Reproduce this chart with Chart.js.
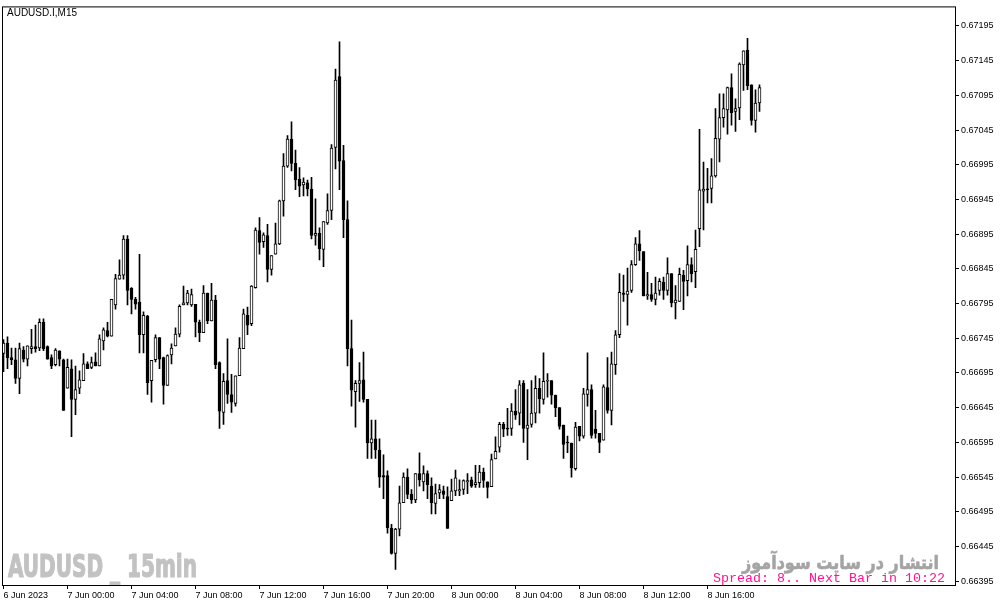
<!DOCTYPE html>
<html>
<head>
<meta charset="utf-8">
<script src="https://cdn.jsdelivr.net/npm/chart.js@4.4.0/dist/chart.umd.min.js"></script>
<style>
  html, body { margin: 0; padding: 0; background: #fff; }
</style>
</head>
<body>
<canvas id="chart" width="1001" height="607"></canvas>
<script>
// AUDUSD.I M15 candles
const symbolTitle = 'AUDUSD.I,M15';
const watermark = 'AUDUSD _ 15min';
const promoText = 'انتشار در سایت سودآموز';
const spreadText = 'Spread: 8.. Next Bar in 10:22';

const open = [
  0.66723,0.66738,0.66717,0.66714,0.66687,0.66728,0.66715,0.66730,0.66733,0.66731,
  0.66768,0.66733,0.66717,0.66707,0.66727,0.66714,0.66673,0.66701,0.66657,0.66673,
  0.66684,0.66708,0.66703,0.66711,0.66705,0.66741,0.66756,0.66748,0.66793,0.66830,
  0.66836,0.66888,0.66817,0.66801,0.66797,0.66750,0.66777,0.66684,0.66714,0.66746,
  0.66717,0.66677,0.66721,0.66734,0.66751,0.66793,0.66796,0.66793,0.66794,0.66768,
  0.66753,0.66810,0.66770,0.66800,0.66710,0.66638,0.66684,0.66664,0.66651,0.66691,
  0.66730,0.66778,0.66766,0.66818,0.66900,0.66884,0.66893,0.66844,0.66866,0.66881,
  0.66943,0.66993,0.67032,0.66997,0.66974,0.66966,0.66969,0.66960,0.66893,0.66896,
  0.66873,0.66911,0.66929,0.67020,0.67122,0.67001,0.66916,0.66730,0.66668,0.66680,
  0.66685,0.66657,0.66594,0.66600,0.66584,0.66547,0.66547,0.66471,0.66435,0.66470,
  0.66508,0.66545,0.66520,0.66512,0.66550,0.66538,0.66550,0.66532,0.66507,0.66522,
  0.66525,0.66517,0.66511,0.66525,0.66525,0.66527,0.66538,0.66541,0.66534,0.66537,
  0.66552,0.66538,0.66531,0.66571,0.66588,0.66621,0.66615,0.66615,0.66640,0.66637,
  0.66680,0.66615,0.66621,0.66637,0.66673,0.66657,0.66683,0.66684,0.66663,0.66645,
  0.66620,0.66595,0.66594,0.66557,0.66618,0.66604,0.66664,0.66671,0.66614,0.66608,
  0.66598,0.66674,0.66641,0.66707,0.66750,0.66810,0.66808,0.66814,0.66851,0.66881,
  0.66870,0.66806,0.66808,0.66801,0.66814,0.66826,0.66814,0.66838,0.66796,0.66798,
  0.66836,0.66828,0.66851,0.66841,0.66903,0.66957,0.66960,0.66961,0.66979,0.67032,
  0.67063,0.67074,0.67106,0.67072,0.67077,0.67139,0.67160,0.67110,0.67059,0.67084
];
const high = [
  0.66743,0.66747,0.66731,0.66731,0.66738,0.66733,0.66734,0.66758,0.66764,0.66773,
  0.66773,0.66734,0.66721,0.66730,0.66727,0.66715,0.66715,0.66714,0.66705,0.66698,
  0.66723,0.66711,0.66718,0.66724,0.66750,0.66760,0.66768,0.66801,0.66837,0.66858,
  0.66893,0.66893,0.66818,0.66804,0.66866,0.66783,0.66778,0.66713,0.66750,0.66746,
  0.66718,0.66721,0.66737,0.66760,0.66793,0.66820,0.66814,0.66816,0.66794,0.66771,
  0.66821,0.66810,0.66824,0.66807,0.66711,0.66694,0.66744,0.66693,0.66691,0.66746,
  0.66787,0.66790,0.66821,0.66904,0.66919,0.66897,0.66909,0.66864,0.66911,0.66944,
  0.67011,0.67037,0.67057,0.67016,0.66991,0.66976,0.66973,0.66977,0.66946,0.66904,
  0.66913,0.66953,0.67024,0.67133,0.67172,0.67023,0.66943,0.66771,0.66684,0.66710,
  0.66725,0.66657,0.66627,0.66627,0.66600,0.66577,0.66554,0.66477,0.66471,0.66532,
  0.66551,0.66557,0.66527,0.66550,0.66580,0.66561,0.66554,0.66544,0.66535,0.66534,
  0.66532,0.66531,0.66542,0.66555,0.66541,0.66541,0.66550,0.66545,0.66562,0.66562,
  0.66558,0.66538,0.66578,0.66603,0.66624,0.66624,0.66644,0.66651,0.66671,0.66684,
  0.66684,0.66671,0.66684,0.66691,0.66687,0.66724,0.66694,0.66684,0.66663,0.66645,
  0.66620,0.66604,0.66594,0.66624,0.66618,0.66673,0.66724,0.66678,0.66641,0.66608,
  0.66678,0.66717,0.66725,0.66756,0.66838,0.66836,0.66846,0.66857,0.66890,0.66900,
  0.66870,0.66840,0.66824,0.66833,0.66831,0.66833,0.66861,0.66838,0.66821,0.66846,
  0.66843,0.66878,0.66861,0.66901,0.67046,0.66999,0.66990,0.67004,0.67076,0.67097,
  0.67097,0.67107,0.67126,0.67090,0.67142,0.67159,0.67177,0.67110,0.67103,0.67110
];
const low = [
  0.66697,0.66701,0.66707,0.66680,0.66665,0.66711,0.66705,0.66723,0.66725,0.66727,
  0.66727,0.66715,0.66701,0.66705,0.66705,0.66641,0.66673,0.66603,0.66635,0.66665,
  0.66684,0.66701,0.66701,0.66705,0.66705,0.66728,0.66747,0.66748,0.66787,0.66830,
  0.66830,0.66793,0.66780,0.66787,0.66724,0.66724,0.66664,0.66653,0.66711,0.66701,
  0.66650,0.66677,0.66708,0.66734,0.66747,0.66793,0.66793,0.66791,0.66747,0.66740,
  0.66753,0.66766,0.66770,0.66701,0.66615,0.66621,0.66651,0.66638,0.66647,0.66691,
  0.66730,0.66750,0.66763,0.66817,0.66866,0.66876,0.66826,0.66836,0.66866,0.66880,
  0.66921,0.66991,0.66986,0.66959,0.66949,0.66950,0.66950,0.66888,0.66879,0.66858,
  0.66848,0.66909,0.66916,0.66989,0.66959,0.66890,0.66705,0.66647,0.66617,0.66654,
  0.66653,0.66572,0.66572,0.66572,0.66530,0.66514,0.66464,0.66434,0.66412,0.66460,
  0.66508,0.66514,0.66507,0.66508,0.66532,0.66525,0.66514,0.66492,0.66492,0.66514,
  0.66514,0.66471,0.66511,0.66518,0.66518,0.66520,0.66521,0.66530,0.66530,0.66530,
  0.66530,0.66515,0.66531,0.66571,0.66581,0.66603,0.66605,0.66605,0.66628,0.66620,
  0.66595,0.66570,0.66617,0.66623,0.66637,0.66650,0.66660,0.66650,0.66632,0.66614,
  0.66572,0.66580,0.66545,0.66555,0.66597,0.66601,0.66647,0.66601,0.66601,0.66580,
  0.66598,0.66637,0.66620,0.66693,0.66746,0.66798,0.66764,0.66811,0.66850,0.66857,
  0.66806,0.66801,0.66798,0.66793,0.66807,0.66801,0.66807,0.66790,0.66773,0.66798,
  0.66786,0.66806,0.66826,0.66818,0.66877,0.66901,0.66940,0.66940,0.66977,0.66999,
  0.67049,0.67039,0.67052,0.67043,0.67060,0.67102,0.67103,0.67052,0.67042,0.67072
];
const close = [
  0.66738,0.66717,0.66714,0.66687,0.66730,0.66715,0.66734,0.66733,0.66730,0.66768,
  0.66730,0.66715,0.66705,0.66728,0.66715,0.66641,0.66703,0.66657,0.66671,0.66685,
  0.66708,0.66701,0.66710,0.66705,0.66744,0.66757,0.66748,0.66801,0.66831,0.66836,
  0.66888,0.66814,0.66801,0.66794,0.66750,0.66778,0.66681,0.66713,0.66746,0.66715,
  0.66677,0.66720,0.66731,0.66751,0.66791,0.66796,0.66810,0.66808,0.66768,0.66753,
  0.66810,0.66770,0.66800,0.66707,0.66640,0.66683,0.66664,0.66653,0.66691,0.66731,
  0.66780,0.66764,0.66820,0.66901,0.66883,0.66894,0.66844,0.66864,0.66881,0.66943,
  0.66993,0.67032,0.66997,0.66973,0.66964,0.66970,0.66960,0.66893,0.66896,0.66874,
  0.66913,0.66929,0.67019,0.67117,0.67000,0.66916,0.66730,0.66670,0.66680,0.66684,
  0.66657,0.66594,0.66600,0.66584,0.66545,0.66545,0.66472,0.66435,0.66470,0.66508,
  0.66545,0.66520,0.66512,0.66550,0.66541,0.66550,0.66534,0.66508,0.66521,0.66527,
  0.66520,0.66471,0.66525,0.66544,0.66527,0.66540,0.66540,0.66532,0.66537,0.66552,
  0.66540,0.66530,0.66570,0.66582,0.66621,0.66614,0.66614,0.66640,0.66634,0.66678,
  0.66615,0.66620,0.66637,0.66673,0.66658,0.66683,0.66684,0.66663,0.66645,0.66618,
  0.66592,0.66594,0.66558,0.66617,0.66604,0.66665,0.66671,0.66605,0.66608,0.66595,
  0.66675,0.66641,0.66708,0.66750,0.66811,0.66808,0.66813,0.66851,0.66881,0.66871,
  0.66806,0.66808,0.66801,0.66810,0.66827,0.66814,0.66838,0.66796,0.66800,0.66837,
  0.66827,0.66851,0.66838,0.66873,0.66959,0.66960,0.66959,0.66979,0.67033,0.67063,
  0.67076,0.67106,0.67070,0.67076,0.67140,0.67159,0.67109,0.67059,0.67084,0.67106
];

const priceTicks = [
  0.66395,0.66445,0.66495,0.66545,0.66595,0.66645,0.66695,0.66745,0.66795,
  0.66845,0.66895,0.66945,0.66995,0.67045,0.67095,0.67145,0.67195
];
const timeLabels = [
  '6 Jun 2023','7 Jun 00:00','7 Jun 04:00','7 Jun 08:00','7 Jun 12:00','7 Jun 16:00',
  '7 Jun 20:00','8 Jun 00:00','8 Jun 04:00','8 Jun 08:00','8 Jun 12:00','8 Jun 16:00'
];

// bar open times, 15 minutes apart, from the first bar on screen
const firstBar = Date.UTC(2023, 5, 6, 20, 0);
const mon = ['Jan','Feb','Mar','Apr','May','Jun','Jul','Aug','Sep','Oct','Nov','Dec'];
const pad2 = n => String(n).padStart(2, '0');
const barTimes = open.map((_, i) => {
  const d = new Date(firstBar + i * 15 * 60000);
  return d.getUTCDate() + ' ' + mon[d.getUTCMonth()] + ' ' + pad2(d.getUTCHours()) + ':' + pad2(d.getUTCMinutes());
});
const tickBars = timeLabels.map((t, k) => k === 0 ? 0 : barTimes.indexOf(t));

const wicks = open.map((_, i) => ({ x: i, y: [low[i], high[i]] }));
const bodies = open.map((_, i) => ({ x: i, y: [open[i], close[i]] }));

// text squeezed to a given width; optional stroke makes it heavier
function fitText(g, text, x, y, w, font, color, heavy) {
  g.save();
  g.font = font;
  const m = g.measureText(text).width;
  g.translate(x, y);
  g.scale(w / m, 1);
  g.fillStyle = color;
  g.textAlign = 'left';
  g.textBaseline = 'alphabetic';
  if (heavy) {
    g.strokeStyle = color;
    g.lineWidth = heavy;
    g.lineJoin = 'round';
    g.strokeText(text, 0, 0);
  }
  g.fillText(text, 0, 0);
  g.restore();
}

const decor = {
  id: 'decor',
  beforeDraw(c) {
    const g = c.ctx;
    g.save();
    g.fillStyle = '#fff';
    g.fillRect(0, 0, c.width, c.height);
    g.restore();
  },
  beforeDatasetsDraw(c) {
    const g = c.ctx;
    fitText(g, watermark, 8, 577, 189, "bold 32px 'Liberation Sans Narrow', 'DejaVu Sans Condensed', 'Liberation Sans'", '#c2c2c2', 1.2);
    fitText(g, promoText, 742, 569, 197, "bold 19px 'DejaVu Sans'", '#a4a4a4', 0.6);
  },
  afterDraw(c) {
    const g = c.ctx, a = c.chartArea;
    g.save();
    g.strokeStyle = '#000';
    g.lineWidth = 1;
    g.strokeRect(a.left - 0.5, a.top - 0.5, a.right - a.left + 1, a.bottom - a.top + 1);
    g.fillStyle = '#000';
    g.font = "10px 'Liberation Sans'";
    g.textBaseline = 'alphabetic';
    g.fillText(symbolTitle, 7, 16);
    g.restore();
    fitText(g, spreadText, 713, 581.5, 232, "13px 'Liberation Mono'", '#ff1493');
  }
};

const tickFont = { family: "'Liberation Sans', Arial, sans-serif", size: 9 };

new Chart(document.getElementById('chart'), {
  type: 'bar',
  data: {
    datasets: [
      {
        data: bodies,
        order: 1,
        grouped: false,
        barThickness: 3,
        minBarLength: 1,
        borderWidth: 1,
        borderColor: '#000',
        borderSkipped: false,
        backgroundColor: c => close[c.dataIndex] >= open[c.dataIndex] ? '#fff' : '#000'
      },
      {
        data: wicks,
        order: 2,
        grouped: false,
        barThickness: 1,
        borderWidth: 0,
        backgroundColor: '#000'
      }
    ]
  },
  options: {
    responsive: false,
    animation: false,
    devicePixelRatio: 1,
    layout: { padding: { left: 3, top: 3, right: 0, bottom: 0 } },
    plugins: { legend: { display: false }, tooltip: { enabled: false } },
    scales: {
      x: {
        type: 'linear',
        min: -0.125,
        max: 237.875,
        bounds: 'data',
        offset: false,
        border: { display: false },
        grid: { drawOnChartArea: false, offset: false, tickLength: 4, tickColor: '#000' },
        afterBuildTicks: s => { s.ticks = tickBars.map(v => ({ value: v })); },
        afterFit: s => { s.height = 22; },
        ticks: {
          autoSkip: false,
          maxRotation: 0,
          align: 'start',
          padding: 1,
          color: '#000',
          font: tickFont,
          callback: v => timeLabels[tickBars.indexOf(v)]
        }
      },
      y: {
        position: 'right',
        min: 0.6638945,
        max: 0.6722171,
        bounds: 'data',
        border: { display: false },
        grid: { drawOnChartArea: false, tickLength: 4, tickColor: '#000' },
        afterBuildTicks: s => { s.ticks = priceTicks.map(v => ({ value: v })); },
        afterFit: s => { s.width = 46; },
        ticks: {
          padding: 2,
          color: '#000',
          font: tickFont,
          callback: v => v.toFixed(5)
        }
      }
    }
  },
  plugins: [decor]
});
</script>
</body>
</html>
